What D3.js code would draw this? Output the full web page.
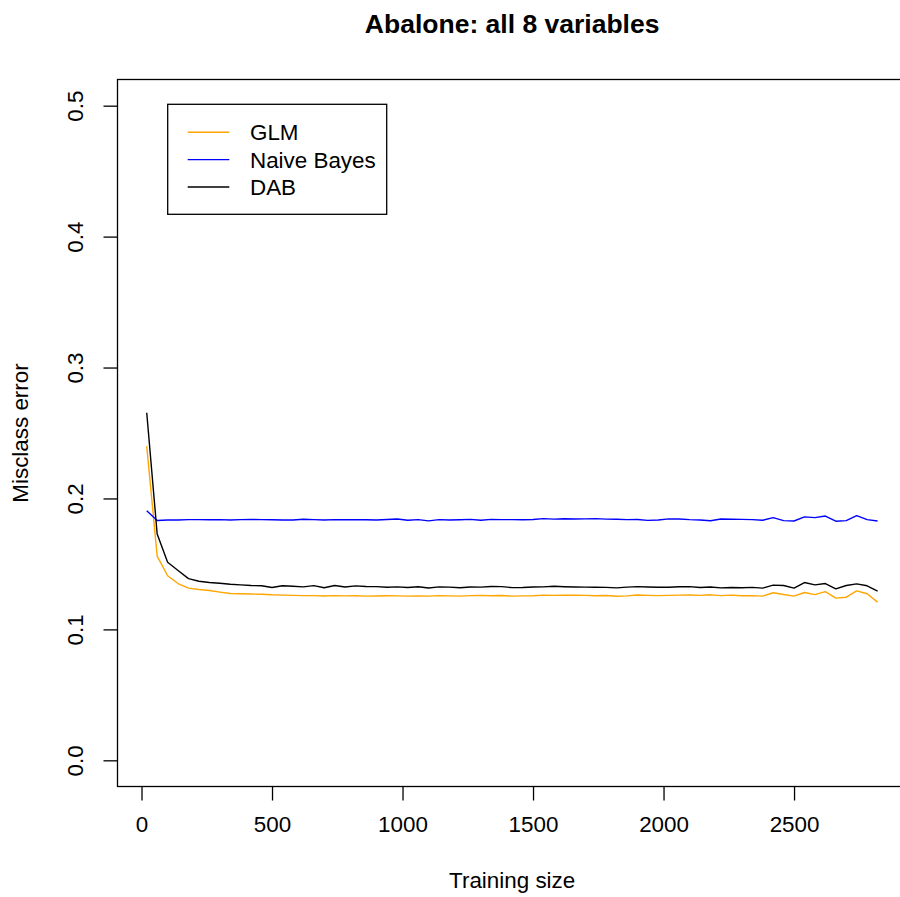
<!DOCTYPE html>
<html>
<head>
<meta charset="utf-8">
<script src="https://cdn.jsdelivr.net/npm/d3@7"></script>
<style>
  body { margin: 0; background: #fff; }
  svg { display: block; }
  text { font-family: "Liberation Sans", Arial, Helvetica, sans-serif; fill: #000; }
</style>
</head>
<body>
<svg id="chart" width="900" height="897"></svg>
<script>
// training sizes (x)
const trainSize = [
  20, 60, 100, 140, 180, 220, 260, 300, 340, 380,
  420, 460, 500, 540, 580, 620, 660, 700, 740, 780,
  820, 860, 900, 940, 980, 1020, 1060, 1100, 1140, 1180,
  1220, 1260, 1300, 1340, 1380, 1420, 1460, 1500, 1540, 1580,
  1620, 1660, 1700, 1740, 1780, 1820, 1860, 1900, 1940, 1980,
  2020, 2060, 2100, 2140, 2180, 2220, 2260, 2300, 2340, 2380,
  2420, 2460, 2500, 2540, 2580, 2620, 2660, 2700, 2740, 2780,
  2820
];

const glm = [
  0.240, 0.156, 0.141, 0.135, 0.1315, 0.1305, 0.1297, 0.1285, 0.1274, 0.1272,
  0.1270, 0.1268, 0.1264, 0.1262, 0.1260, 0.1258, 0.1258, 0.1255, 0.1258, 0.1256,
  0.1257, 0.1254, 0.1255, 0.1257, 0.1256, 0.1254, 0.1255, 0.1254, 0.1258, 0.1256,
  0.1254, 0.1258, 0.1260, 0.1257, 0.1259, 0.1254, 0.1256, 0.1257, 0.1262, 0.1260,
  0.1261, 0.1261, 0.1260, 0.1257, 0.1259, 0.1253, 0.1256, 0.1263, 0.1260, 0.1258,
  0.1260, 0.1262, 0.1263, 0.1260, 0.1264, 0.1258, 0.1262, 0.1257, 0.1258, 0.1254,
  0.1280, 0.1266, 0.1254, 0.1282, 0.1266, 0.1289, 0.1239, 0.1246, 0.1294, 0.1272,
  0.1208
];

const naiveBayes = [
  0.1907, 0.1832, 0.1835, 0.1836, 0.1838, 0.1838, 0.1837, 0.1838, 0.1836, 0.1838,
  0.1840, 0.1838, 0.1837, 0.1836, 0.1835, 0.1841, 0.1838, 0.1836, 0.1838, 0.1837,
  0.1838, 0.1837, 0.1836, 0.1839, 0.1843, 0.1834, 0.1838, 0.1829, 0.1838, 0.1835,
  0.1837, 0.1840, 0.1834, 0.1840, 0.1838, 0.1838, 0.1837, 0.1839, 0.1846, 0.1842,
  0.1845, 0.1843, 0.1844, 0.1846, 0.1842, 0.1841, 0.1838, 0.1839, 0.1833, 0.1836,
  0.1844, 0.1843, 0.1838, 0.1836, 0.1830, 0.1843, 0.1841, 0.1840, 0.1838, 0.1834,
  0.1854, 0.1831, 0.1828, 0.1859, 0.1854, 0.1866, 0.1826, 0.1831, 0.1869, 0.1838,
  0.1828
];

const dab = [
  0.2655, 0.1729, 0.1513, 0.1450, 0.1388, 0.1368, 0.1358, 0.1352, 0.1345, 0.1340,
  0.1335, 0.1333, 0.1320, 0.1333, 0.1330, 0.1325, 0.1334, 0.1318, 0.1335, 0.1324,
  0.1332, 0.1328, 0.1327, 0.1322, 0.1325, 0.1320, 0.1326, 0.1316, 0.1325, 0.1323,
  0.1318, 0.1324, 0.1323, 0.1328, 0.1327, 0.1319, 0.1320, 0.1324, 0.1325, 0.1329,
  0.1326, 0.1324, 0.1323, 0.1322, 0.1321, 0.1317, 0.1323, 0.1327, 0.1324, 0.1322,
  0.1322, 0.1326, 0.1327, 0.1320, 0.1324, 0.1317, 0.1320, 0.1318, 0.1321, 0.1315,
  0.1338, 0.1335, 0.1315, 0.1358, 0.1340, 0.1350, 0.1310, 0.1335, 0.1348, 0.1333,
  0.1292
];

const seriesNames = ["GLM", "Naive Bayes", "DAB"];
const seriesColors = ["orange", "blue", "black"];
const xTicks = [0, 500, 1000, 1500, 2000, 2500];
const yTicks = [0.0, 0.1, 0.2, 0.3, 0.4, 0.5];

const svg = d3.select("#chart");
const fontSize = 22.4;

// plot region (R style: 4% padding around the data range)
const plotL = 117.5, plotT = 79.5, plotB = 786.5, plotR = 906.8;
const xPad = (d3.max(trainSize) - d3.min(trainSize)) * 0.04;
const x = d3.scaleLinear()
  .domain([d3.min(trainSize) - xPad, d3.max(trainSize) + xPad])
  .range([plotL, plotR]);
const y = d3.scaleLinear()
  .domain([-0.02, 0.52])
  .range([plotB, plotT]);

// lines
const line = d3.line()
  .x((d) => x(d[0]))
  .y((d) => y(d[1]));

[glm, naiveBayes, dab].forEach((vals, i) => {
  svg.append("path")
    .datum(trainSize.map((t, j) => [t, vals[j]]))
    .attr("fill", "none")
    .attr("stroke", seriesColors[i])
    .attr("stroke-width", 1.4)
    .attr("stroke-linejoin", "round")
    .attr("d", line);
});

// box
svg.append("rect")
  .attr("x", plotL)
  .attr("y", plotT)
  .attr("width", plotR - plotL)
  .attr("height", plotB - plotT)
  .attr("fill", "none")
  .attr("stroke", "#000")
  .attr("stroke-width", 1.3);

// x axis
const xAxis = svg.append("g")
  .attr("transform", `translate(0,${plotB})`)
  .call(d3.axisBottom(x).tickValues(xTicks).tickSize(14).tickPadding(16).tickFormat(d3.format("d")));
xAxis.select(".domain").remove();
xAxis.attr("font-family", null).attr("font-size", null);
xAxis.selectAll("line").attr("stroke-width", 1.3);
xAxis.selectAll("text")
  .attr("font-size", fontSize)
  .attr("fill", "#000");

// y axis (labels parallel to axis, like R)
const yAxis = svg.append("g")
  .attr("transform", `translate(${plotL},0)`)
  .call(d3.axisLeft(y).tickValues(yTicks).tickSize(14).tickFormat(d3.format(".1f")));
yAxis.select(".domain").remove();
yAxis.attr("font-family", null).attr("font-size", null);
yAxis.selectAll("line").attr("stroke-width", 1.3);
yAxis.selectAll("text")
  .attr("font-size", fontSize)
  .attr("fill", "#000")
  .attr("x", null)
  .attr("dy", null)
  .attr("text-anchor", "middle")
  .attr("transform", "translate(-35,0) rotate(-90)");

// titles
svg.append("text")
  .attr("x", (plotL + plotR) / 2)
  .attr("y", 33)
  .attr("text-anchor", "middle")
  .attr("font-size", 26.5)
  .attr("font-weight", "bold")
  .text("Abalone: all 8 variables");

svg.append("text")
  .attr("x", (plotL + plotR) / 2)
  .attr("y", 888)
  .attr("text-anchor", "middle")
  .attr("font-size", fontSize)
  .text("Training size");

svg.append("text")
  .attr("transform", `translate(28,${(plotT + plotB) / 2}) rotate(-90)`)
  .attr("text-anchor", "middle")
  .attr("font-size", fontSize)
  .text("Misclass error");

// legend
const legend = svg.append("g");
legend.append("rect")
  .attr("x", 167.7)
  .attr("y", 104.3)
  .attr("width", 219)
  .attr("height", 110)
  .attr("fill", "#fff")
  .attr("stroke", "#000")
  .attr("stroke-width", 1.3);

seriesNames.forEach((name, i) => {
  const ry = 132.3 + i * 27.35;
  legend.append("line")
    .attr("x1", 187.7).attr("x2", 229.3)
    .attr("y1", ry).attr("y2", ry)
    .attr("stroke", seriesColors[i])
    .attr("stroke-width", 1.4);
  legend.append("text")
    .attr("x", 250)
    .attr("y", ry + 8)
    .attr("font-size", fontSize)
    .text(name);
});
</script>
</body>
</html>
